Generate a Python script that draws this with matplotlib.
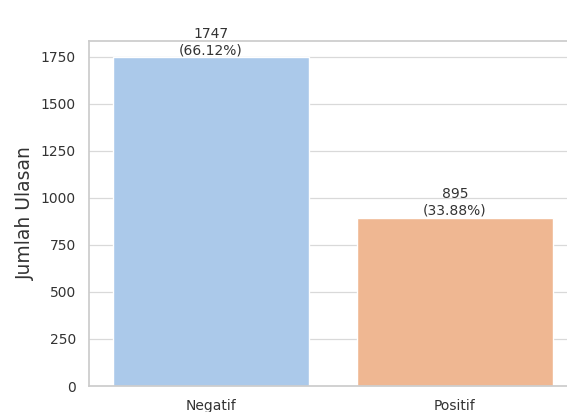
import matplotlib
matplotlib.use("Agg")
import matplotlib.pyplot as plt
import seaborn as sns

# sentiment counts per class
labels = ["Negatif", "Positif"]
counts = [1747, 895]

sns.set_theme(style="whitegrid")
plt.rcParams['font.family'] = ['DejaVu Sans']

fig = plt.figure(figsize=(5.67, 4.12), dpi=100)
ax = fig.add_axes([89 / 567, 26 / 412, 488 / 567, 345 / 412])

sns.barplot(x=labels, y=counts, hue=labels, palette="pastel", legend=False, ax=ax)

total = sum(counts)
for i, c in enumerate(counts):
    ax.text(i, c, f"{c}\n({c / total * 100:.2f}%)", ha="center", va="bottom",
            fontsize=10, color="#333333")

ax.set_xlabel("")
ax.set_ylabel("Jumlah Ulasan", fontsize=13.5, color="#333333", labelpad=4)
ax.set_yticks(range(0, 1751, 250))
ax.tick_params(axis="both", labelsize=10, labelcolor="#333333")
ax.grid(axis="y", linewidth=0.9, color="#d9d9d9")
for s in ax.spines.values():
    s.set_color("#cccccc")

fig.savefig("out.png", dpi=100)
